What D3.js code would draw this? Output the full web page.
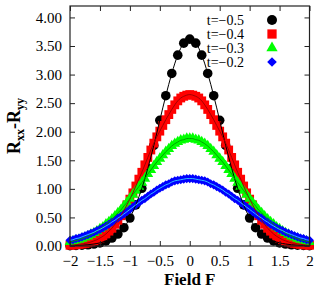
<!DOCTYPE html>
<html>
<head>
<meta charset="utf-8">
<script src="https://cdn.jsdelivr.net/npm/d3@7"></script>
<style>
  body { margin: 0; background: #fff; }
  text { font-family: "Liberation Serif", "DejaVu Serif", serif; }
</style>
</head>
<body>
<div id="chart"></div>
<script>
// data
var fieldCoarse = [-2.0,-1.9,-1.8,-1.7,-1.6,-1.5,-1.4,-1.3,-1.2,-1.1,-1.0,-0.9,-0.8,-0.7,-0.6,-0.5,-0.4,-0.3,-0.2,-0.1,0,
  0.1,0.2,0.3,0.4,0.5,0.6,0.7,0.8,0.9,1.0,1.1,1.2,1.3,1.4,1.5,1.6,1.7,1.8,1.9,2.0];
var fieldFine = [-2.0,-1.95,-1.9,-1.85,-1.8,-1.75,-1.7,-1.65,-1.6,-1.55,-1.5,-1.45,-1.4,-1.35,-1.3,-1.25,-1.2,-1.15,-1.1,-1.05,
  -1.0,-0.95,-0.9,-0.85,-0.8,-0.75,-0.7,-0.65,-0.6,-0.55,-0.5,-0.45,-0.4,-0.35,-0.3,-0.25,-0.2,-0.15,-0.1,-0.05,0,
  0.05,0.1,0.15,0.2,0.25,0.3,0.35,0.4,0.45,0.5,0.55,0.6,0.65,0.7,0.75,0.8,0.85,0.9,0.95,
  1.0,1.05,1.1,1.15,1.2,1.25,1.3,1.35,1.4,1.45,1.5,1.55,1.6,1.65,1.7,1.75,1.8,1.85,1.9,1.95,2.0];

var t05 = [0.005,0.009,0.014,0.022,0.035,0.055,0.09,0.14,0.21,0.32,0.49,0.72,1.01,1.36,1.76,2.20,2.63,3.02,3.34,3.55,3.62,
  3.55,3.34,3.02,2.63,2.20,1.76,1.36,1.01,0.72,0.49,0.32,0.21,0.14,0.09,0.055,0.035,0.022,0.014,0.009,0.005];
var t04 = [0.013,0.017,0.022,0.028,0.035,0.045,0.055,0.07,0.09,0.11,0.14,0.17,0.21,0.26,0.31,0.38,0.45,0.53,0.62,0.72,
  0.82,0.93,1.05,1.17,1.29,1.42,1.55,1.68,1.80,1.91,2.01,2.11,2.21,2.30,2.39,2.47,2.54,2.59,2.62,2.64,2.65,
  2.64,2.62,2.59,2.54,2.47,2.39,2.30,2.21,2.11,2.01,1.91,1.80,1.68,1.55,1.42,1.29,1.17,1.05,0.93,
  0.82,0.72,0.62,0.53,0.45,0.38,0.31,0.26,0.21,0.17,0.14,0.11,0.09,0.07,0.055,0.045,0.035,0.028,0.022,0.017,0.013];
var t03 = [0.070,0.083,0.097,0.11,0.13,0.15,0.17,0.20,0.23,0.26,0.30,0.33,0.38,0.42,0.47,0.52,0.58,0.63,0.70,0.76,
  0.83,0.90,0.97,1.04,1.11,1.18,1.26,1.33,1.40,1.47,1.53,1.59,1.65,1.70,1.75,1.79,1.82,1.85,1.86,1.88,1.88,
  1.88,1.86,1.85,1.82,1.79,1.75,1.70,1.65,1.59,1.53,1.47,1.40,1.33,1.26,1.18,1.11,1.04,0.97,0.90,
  0.83,0.76,0.70,0.63,0.58,0.52,0.47,0.42,0.38,0.33,0.30,0.26,0.23,0.20,0.17,0.15,0.13,0.11,0.097,0.083,0.070];
var t02 = [0.10,0.11,0.13,0.14,0.16,0.18,0.20,0.22,0.24,0.27,0.29,0.32,0.35,0.38,0.42,0.45,0.49,0.52,0.56,0.60,
  0.64,0.68,0.72,0.76,0.80,0.83,0.87,0.91,0.94,0.98,1.01,1.04,1.07,1.09,1.12,1.14,1.15,1.16,1.17,1.18,1.18,
  1.18,1.17,1.16,1.15,1.14,1.12,1.09,1.07,1.04,1.01,0.98,0.94,0.91,0.87,0.83,0.80,0.76,0.72,0.68,
  0.64,0.60,0.56,0.52,0.49,0.45,0.42,0.38,0.35,0.32,0.29,0.27,0.24,0.22,0.20,0.18,0.16,0.14,0.13,0.11,0.10];

var legendLabels = ["t=\u22120.5", "t=\u22120.4", "t=\u22120.3", "t=\u22120.2"];
var xTicks = [-2, -1.5, -1, -0.5, 0, 0.5, 1, 1.5, 2];
var yTicks = [0, 0.5, 1, 1.5, 2, 2.5, 3, 3.5, 4];

var W = 314, H = 289;
var margin = {top: 6, right: 4.5, bottom: 43, left: 70},
    width = W - margin.left - margin.right,
    height = H - margin.top - margin.bottom;

var x = d3.scaleLinear().domain([-2, 2]).range([0, width]);
var y = d3.scaleLinear().domain([0, 4.2]).range([height, 0]);

var svg = d3.select("#chart").append("svg")
    .attr("width", W)
    .attr("height", H);

var g = svg.append("g")
    .attr("transform", "translate(" + margin.left + "," + margin.top + ")");

var series = [
  {f: fieldCoarse, v: t05, color: "#000", line: "#000", shape: d3.symbolCircle, size: 72, rot: 0},
  {f: fieldFine, v: t04, color: "#ff0000", line: "#a00000", shape: d3.symbolSquare, size: 78, rot: 0},
  {f: fieldFine, v: t03, color: "#00ff00", line: "#00a000", shape: d3.symbolTriangle, size: 50, rot: 0},
  {f: fieldFine, v: t02, color: "#0000ff", line: "#33bbff", shape: d3.symbolSquare, size: 42, rot: 45}
];

// markers
series.forEach(function(s) {
  var pts = s.f.map(function(f, i) { return [f, s.v[i]]; });
  g.append("g").selectAll("path")
    .data(pts)
    .enter().append("path")
      .attr("d", d3.symbol().type(s.shape).size(s.size))
      .attr("transform", function(d) { return "translate(" + x(d[0]) + "," + y(d[1]) + ") rotate(" + s.rot + ")"; })
      .attr("fill", s.color);
});

// thin lines on top
var line = d3.line()
    .x(function(d) { return x(d[0]); })
    .y(function(d) { return y(d[1]); })
    .curve(d3.curveCatmullRom);

series.forEach(function(s) {
  var pts = s.f.map(function(f, i) { return [f, s.v[i]]; });
  g.append("path")
    .datum(pts)
    .attr("fill", "none")
    .attr("stroke", s.line)
    .attr("stroke-width", 1)
    .attr("d", line);
});

// frame + inward ticks
g.append("rect")
    .attr("width", width).attr("height", height)
    .attr("fill", "none").attr("stroke", "#222").attr("stroke-width", 1.2);

var xAxis = d3.axisBottom(x).tickValues(xTicks).tickSize(-5).tickPadding(9)
    .tickFormat(d3.format("~g"));
var yAxis = d3.axisLeft(y).tickValues(yTicks).tickSize(-5).tickPadding(8)
    .tickFormat(d3.format(".2f"));

g.append("g").attr("transform", "translate(0," + height + ")").call(xAxis);
g.append("g").call(yAxis);
g.append("g").call(d3.axisTop(x).tickValues(xTicks).tickSize(-5).tickFormat(""));
g.append("g").attr("transform", "translate(" + width + ",0)")
    .call(d3.axisRight(y).tickValues(yTicks).tickSize(-5).tickFormat(""));

g.selectAll(".domain").remove();
g.selectAll(".tick line").attr("stroke", "#222");
g.selectAll(".tick text")
    .attr("fill", "#000")
    .style("font-family", "'Liberation Serif', serif")
    .style("font-size", "15px");

// axis titles
svg.append("text")
    .attr("x", margin.left + x(0))
    .attr("y", 285)
    .attr("text-anchor", "middle")
    .style("font-weight", "bold")
    .style("font-size", "17px")
    .text("Field F");

var yl = svg.append("text")
    .attr("transform", "translate(20," + (margin.top + y(2.1)) + ") rotate(-90)")
    .attr("text-anchor", "middle")
    .style("font-weight", "bold")
    .style("font-size", "18px");
yl.append("tspan").text("R");
yl.append("tspan").attr("dy", 4).style("font-size", "12px").text("xx");
yl.append("tspan").attr("dy", -4).text("-R");
yl.append("tspan").attr("dy", 4).style("font-size", "12px").text("yy");

// legend
var leg = svg.append("g");
legendLabels.forEach(function(lab, i) {
  var ly = 20 + i * 14;
  leg.append("text")
    .attr("x", 244).attr("y", ly + 4.5)
    .attr("text-anchor", "end")
    .style("font-size", "14px")
    .text(lab);
  var s = series[i];
  leg.append("path")
    .attr("d", d3.symbol().type(s.shape).size(s.size * 1.1))
    .attr("transform", "translate(272," + ly + ") rotate(" + s.rot + ")")
    .attr("fill", s.color);
});
</script>
</body>
</html>
